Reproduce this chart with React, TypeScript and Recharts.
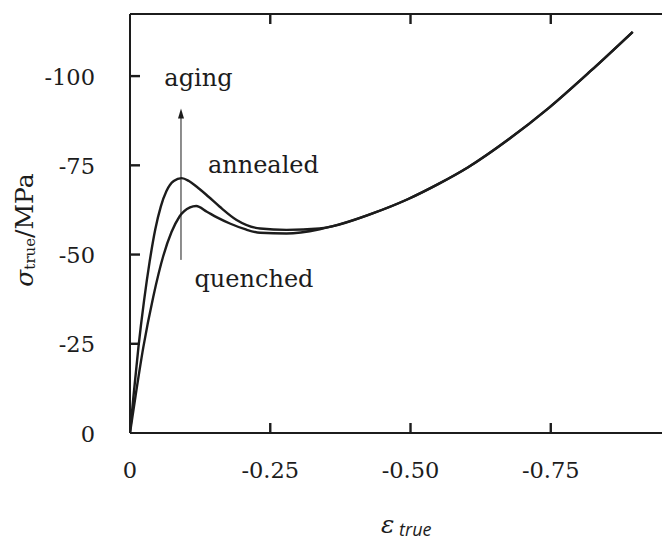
import React from 'react';
import { ComposedChart, Line, Scatter, XAxis, YAxis } from 'recharts';

// ---- data (true strain, true stress) ----
const annealedStrain = [0, -0.006, -0.015, -0.025, -0.035, -0.045, -0.055, -0.065, -0.078, -0.092, -0.105, -0.119, -0.14, -0.16, -0.19, -0.232, -0.279, -0.338];
const annealedStress = [0, -10.0, -24.0, -37.0, -48.0, -57.0, -63.5, -67.8, -70.6, -71.4, -70.6, -69.0, -66.2, -63.4, -59.7, -57.3, -56.9, -57.3];
const quenchedStrain = [0, -0.01, -0.0237, -0.0415, -0.0593, -0.074, -0.088, -0.107, -0.118, -0.137, -0.155, -0.178, -0.205, -0.232, -0.279, -0.338];
const quenchedStress = [0, -10.5, -24.0, -38.2, -49.6, -56.3, -60.6, -63.2, -63.6, -62.0, -60.4, -58.7, -57.1, -56.1, -55.9, -57.1];
const sharedStrain = [-0.36, -0.43, -0.495, -0.55, -0.602, -0.675, -0.745, -0.82, -0.896];
const sharedStress = [-57.9, -61.4, -65.5, -69.8, -74.4, -82.3, -90.9, -101.3, -112.4];

const strainTicks = [0, -0.25, -0.5, -0.75];
const strainTickLabels = ['0', '-0.25', '-0.50', '-0.75'];
const stressTicks = [0, -25, -50, -75, -100];
const stressTickLabels = ['0', '-25', '-50', '-75', '-100'];
const strainMinorMarks = [-0.25, -0.5, -0.75];
const stressMinorMarks = [-25, -50, -75, -100];

const arrowStrain = [-0.0909, -0.0909];
const arrowStress = [-48.5, -89.5];
const arrowTipStress = -90.9;

const annotationText = ['aging', 'annealed', 'quenched'];
const annotationStrain = [-0.122, -0.2378, -0.221];
const annotationStress = [-97.2, -72.8, -41.0];

const strainDomain = [-0.975, 0];
const stressDomain = [-117.4, 0];

const TICK_PX = 10;
const TICK_W = 2.4;

// ---- build series ----
const annealedData = [...annealedStrain, ...sharedStrain].map((e, i) => ({
  e,
  s: [...annealedStress, ...sharedStress][i],
}));
const quenchedData = [...quenchedStrain, ...sharedStrain].map((e, i) => ({
  e,
  s: [...quenchedStress, ...sharedStress][i],
}));
const arrowData = arrowStrain.map((e, i) => ({ e, s: arrowStress[i] }));
const arrowTipData = [{ e: arrowStrain[0], s: arrowTipStress }];
const annotationData = annotationText.map((label, i) => ({
  e: annotationStrain[i],
  s: annotationStress[i],
  label,
}));

// inward tick marks on the four frame sides
const tickMarkData = [
  ...strainMinorMarks.map((v) => ({ e: v, s: stressDomain[1], dir: 'up' })),
  ...strainMinorMarks.map((v) => ({ e: v, s: stressDomain[0], dir: 'down' })),
  ...stressMinorMarks.map((v) => ({ e: strainDomain[1], s: v, dir: 'right' })),
  ...stressMinorMarks.map((v) => ({ e: strainDomain[0], s: v, dir: 'left' })),
];

const FONT = '"DejaVu Serif", serif';
const INK = '#1c1c1c';

const TickMark = (props: any) => {
  const cx = Number(props.cx);
  const cy = Number(props.cy);
  const dir = props.payload && props.payload.dir;
  const h = TICK_W / 2;
  let d = '';
  if (dir === 'up') d = `M${cx - h},${cy} L${cx + h},${cy} L${cx + h},${cy - TICK_PX} L${cx - h},${cy - TICK_PX} Z`;
  if (dir === 'down') d = `M${cx - h},${cy} L${cx + h},${cy} L${cx + h},${cy + TICK_PX} L${cx - h},${cy + TICK_PX} Z`;
  if (dir === 'right') d = `M${cx},${cy - h} L${cx + TICK_PX},${cy - h} L${cx + TICK_PX},${cy + h} L${cx},${cy + h} Z`;
  if (dir === 'left') d = `M${cx},${cy - h} L${cx - TICK_PX},${cy - h} L${cx - TICK_PX},${cy + h} L${cx},${cy + h} Z`;
  return <path d={d} fill={INK} />;
};

const BottomTick = (props: any) => {
  const { x, y, payload } = props;
  const i = strainTicks.indexOf(payload.value);
  return (
    <text x={x} y={y} textAnchor="middle" fontSize={22.5} fontFamily={FONT} fill={INK}>
      {strainTickLabels[i]}
    </text>
  );
};

const LeftTick = (props: any) => {
  const { x, y, payload } = props;
  const i = stressTicks.indexOf(payload.value);
  return (
    <text x={x} y={Number(y) + 8.5} textAnchor="end" fontSize={22.5} fontFamily={FONT} fill={INK}>
      {stressTickLabels[i]}
    </text>
  );
};

const AnnotationShape = (props: any) => {
  const { cx, cy, payload } = props;
  return (
    <text x={cx} y={cy} textAnchor="middle" fontSize={24} fontFamily={FONT} fill={INK}>
      {payload.label}
    </text>
  );
};

const ArrowHead = (props: any) => {
  const cx = Number(props.cx);
  const cy = Number(props.cy);
  return <path d={`M${cx},${cy} L${cx - 3},${cy + 10} L${cx + 3},${cy + 10} Z`} fill={INK} />;
};

const YTitle = () => (
  <text
    x={25}
    y={222}
    transform="rotate(-90, 25, 222)"
    textAnchor="middle"
    fontFamily={FONT}
    fill={INK}
    fontSize={25}
  >
    <tspan fontStyle="italic">σ</tspan>
    <tspan fontSize={15} dy={2}>true</tspan>
    <tspan dy={-2}>/MPa</tspan>
  </text>
);

const XTitle = () => (
  <text x={373} y={525} fontFamily={FONT} fill={INK}>
    <tspan fontStyle="italic" fontSize={25}>ε</tspan>
    <tspan fontStyle="italic" fontSize={18} dy={3} fontFamily='"Open Sans", sans-serif'> true</tspan>
  </text>
);

export default function App() {
  return (
    <div style={{ width: 662, height: 532, overflow: 'hidden' }}>
      <ComposedChart
        width={700}
        height={532}
        margin={{ top: 5, right: 30, bottom: 7, left: 0 }}
      >
        <XAxis
          xAxisId="bottom"
          dataKey="e"
          type="number"
          domain={strainDomain}
          allowDataOverflow
          reversed
          ticks={strainTicks}
          interval={0}
          height={100}
          tickSize={0}
          tickMargin={45}
          tickLine={false}
          tick={<BottomTick />}
          axisLine={{ stroke: INK, strokeWidth: 2 }}
          label={<XTitle />}
        />
        <XAxis
          xAxisId="top"
          orientation="top"
          dataKey="e"
          type="number"
          domain={strainDomain}
          allowDataOverflow
          reversed
          ticks={strainMinorMarks}
          interval={0}
          height={1}
          tickLine={false}
          tick={false}
          axisLine={{ stroke: INK, strokeWidth: 2 }}
        />
        <YAxis
          yAxisId="left"
          dataKey="s"
          type="number"
          domain={stressDomain}
          allowDataOverflow
          reversed
          ticks={stressTicks}
          interval={0}
          width={122}
          tickSize={0}
          tickMargin={35}
          tickLine={false}
          tick={<LeftTick />}
          axisLine={{ stroke: INK, strokeWidth: 2 }}
          label={<YTitle />}
        />
        <YAxis
          yAxisId="right"
          orientation="right"
          dataKey="s"
          type="number"
          domain={stressDomain}
          allowDataOverflow
          reversed
          ticks={stressMinorMarks}
          interval={0}
          width={1}
          tickLine={false}
          tick={false}
          axisLine={{ stroke: INK, strokeWidth: 2 }}
        />
        <Line
          xAxisId="bottom"
          yAxisId="left"
          data={annealedData}
          dataKey="s"
          type="monotone"
          stroke={INK}
          strokeWidth={2.4}
          dot={false}
          isAnimationActive={false}
        />
        <Line
          xAxisId="bottom"
          yAxisId="left"
          data={quenchedData}
          dataKey="s"
          type="monotone"
          stroke={INK}
          strokeWidth={2.4}
          dot={false}
          isAnimationActive={false}
        />
        <Line
          xAxisId="bottom"
          yAxisId="left"
          data={arrowData}
          dataKey="s"
          type="linear"
          stroke={INK}
          strokeWidth={1}
          dot={false}
          isAnimationActive={false}
        />
        <Scatter
          xAxisId="bottom"
          yAxisId="left"
          data={arrowTipData}
          dataKey="s"
          shape={<ArrowHead />}
          isAnimationActive={false}
        />
        <Scatter
          xAxisId="bottom"
          yAxisId="left"
          data={tickMarkData}
          dataKey="s"
          shape={<TickMark />}
          isAnimationActive={false}
        />
        <Scatter
          xAxisId="bottom"
          yAxisId="left"
          data={annotationData}
          dataKey="s"
          shape={<AnnotationShape />}
          isAnimationActive={false}
        />
      </ComposedChart>
    </div>
  );
}
